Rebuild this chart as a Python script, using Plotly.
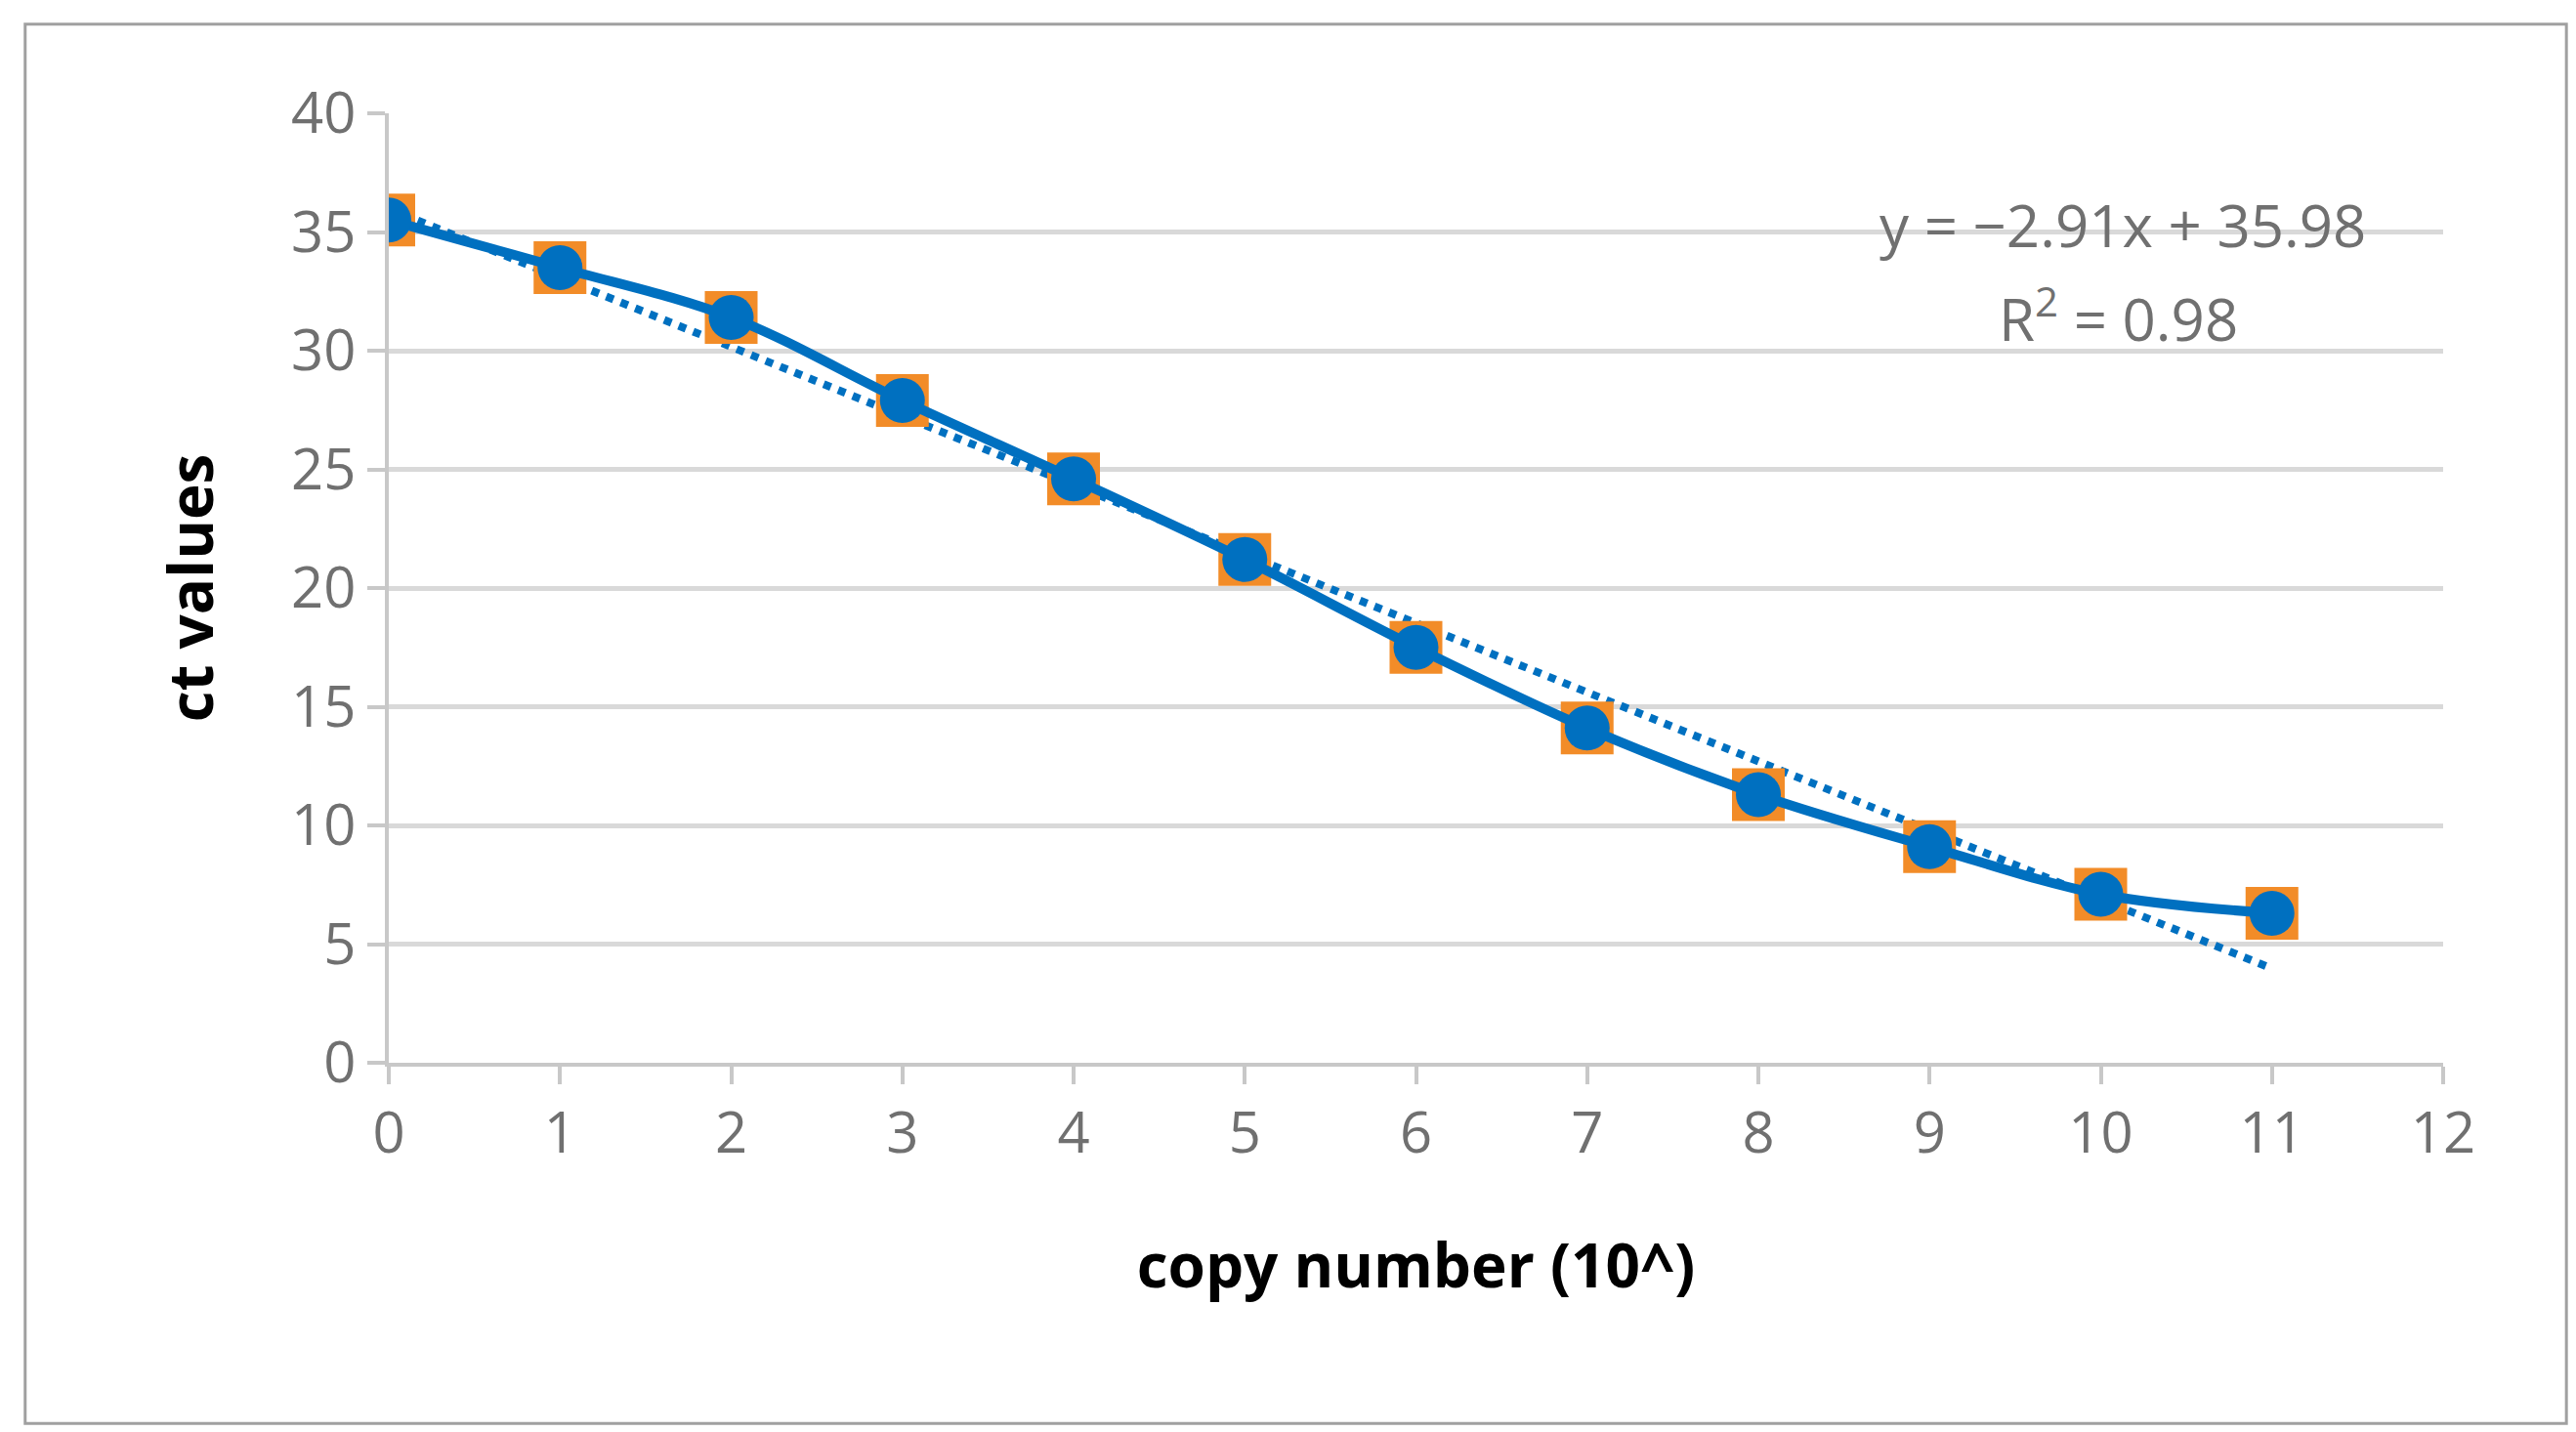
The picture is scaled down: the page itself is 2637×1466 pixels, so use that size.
import plotly.graph_objects as go

copy_number = [0, 1, 2, 3, 4, 5, 6, 7, 8, 9, 10, 11]
ct_values = [35.5, 33.5, 31.4, 27.9, 24.6, 21.2, 17.5, 14.1, 11.3, 9.1, 7.1, 6.3]
slope, intercept = -2.91, 35.98
trend_x = [0, 11]
trend_y = [slope * x + intercept for x in trend_x]

blue = "#0070C0"
fig = go.Figure()
fig.add_trace(go.Scatter(x=trend_x, y=trend_y, mode="lines",
                         line=dict(color=blue, width=8, dash="dot"), showlegend=False))
fig.add_trace(go.Scatter(x=copy_number, y=ct_values, mode="markers",
                         marker=dict(symbol="square", size=54, color="#F28C28"), showlegend=False))
fig.add_trace(go.Scatter(x=copy_number, y=ct_values, mode="lines+markers",
                         line=dict(color=blue, width=10, shape="spline"),
                         marker=dict(size=46, color=blue), showlegend=False))

eq_font = dict(size=60, color="#707070", family="Open Sans")
fig.add_annotation(x=10.13, y=35.3, text="y = −2.91x + 35.98", showarrow=False, font=eq_font)
fig.add_annotation(x=10.1, y=31.5, text="R<sup>2</sup> = 0.98", showarrow=False, font=eq_font)

fig.add_shape(type="rect", xref="paper", yref="paper", x0=-0.177, x1=1.060, y0=-0.38, y1=1.094,
              line=dict(color="#A0A0A0", width=3))

fig.update_layout(
    width=2637, height=1466, plot_bgcolor="white", paper_bgcolor="white",
    margin=dict(l=390, r=144, t=108, b=386),
    font=dict(family="Open Sans", color="#707070"),
    xaxis=dict(range=[0, 12], dtick=1, showgrid=False, showline=True, linecolor="#C8C8C8",
               linewidth=4, ticks="outside", ticklen=18, tickcolor="#C8C8C8", tickwidth=4,
               tickfont=dict(size=58), zeroline=False,
               title=dict(text="<b>copy number (10^)</b>", font=dict(size=62, color="black"), standoff=80)),
    yaxis=dict(range=[0, 40], dtick=5, showgrid=True, gridcolor="#D9D9D9", gridwidth=5,
               showline=True, linecolor="#C8C8C8", linewidth=4, ticks="outside", ticklen=18,
               tickcolor="#C8C8C8", tickwidth=4, tickfont=dict(size=58), zeroline=False,
               title=dict(text="<b>ct values</b>", font=dict(size=62, color="black"), standoff=60)),
)
fig.write_html("out.html")
